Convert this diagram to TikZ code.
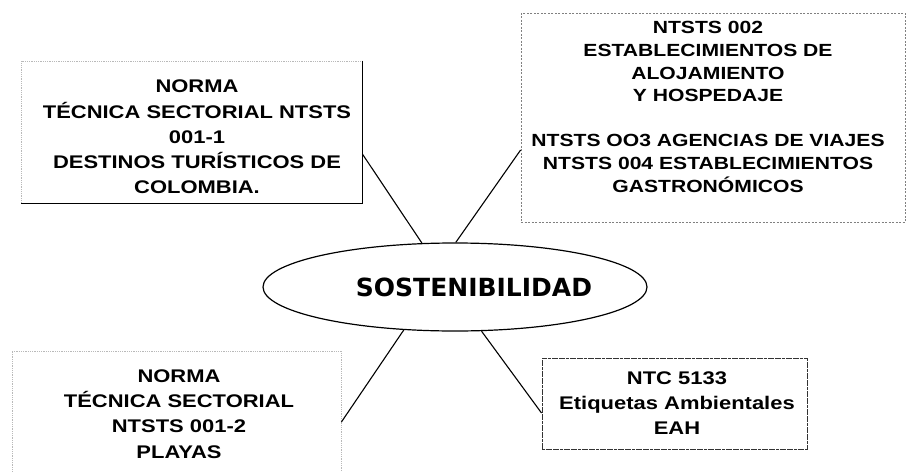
\documentclass[tikz,border=0pt]{standalone}
\usepackage{fontspec}
\setmainfont{Liberation Sans}[FakeStretch=1.2]
\newfontfamily\ovalfont{DejaVu Sans}
\usetikzlibrary{shapes.geometric}

\begin{document}
\begin{tikzpicture}[x=1pt,y=-1pt,
  caja/.style={draw=gray!55, densely dotted, line width=0.8pt, inner sep=0pt},
  texto/.style={align=center, font=\bfseries\fontsize{18.3}{25.3}\selectfont},
  linea/.style={draw, line width=1.1pt}]
\useasboundingbox (0,0) rectangle (907,471);

\node[draw, ellipse, line width=1.2pt, minimum width=384, minimum height=88, inner sep=0pt] (sost) at (455,287) {};
\node[font=\ovalfont\bfseries\fontsize{25}{30}\selectfont] (sosttxt) at (474,287) {SOSTENIBILIDAD};

\node[caja, minimum width=341, minimum height=142] (norma1) at (191.5,132) {};
\node[caja, draw=gray, dash pattern=on 2pt off 1.5pt, minimum width=384, minimum height=209] (ntsts) at (713,117.5) {};
\node[caja, minimum width=329, minimum height=124] (norma2) at (176.5,413) {};
\node[caja, draw=black!80, solid, dash pattern=on 3pt off 0.6pt, line width=1pt,
  minimum width=265, minimum height=91] (ntc) at (674.5,403.5) {};
\draw[line width=1pt] (norma1.north east) -- (norma1.south east) -- (norma1.south west);

\node[texto] (norma1txt) at (197,137) {NORMA\\TÉCNICA SECTORIAL NTSTS\\001-1\\DESTINOS TURÍSTICOS DE\\COLOMBIA.};
\node[texto, font=\bfseries\fontsize{17.6}{22.6}\selectfont] (ntststxt) at (708,107)
  {NTSTS 002\\ESTABLECIMIENTOS DE\\ALOJAMIENTO\\Y HOSPEDAJE\\[22.6pt]NTSTS OO3 AGENCIAS DE VIAJES\\NTSTS 004 ESTABLECIMIENTOS\\GASTRONÓMICOS};
\node[texto] (norma2txt) at (179,414) {NORMA\\TÉCNICA SECTORIAL\\NTSTS 001-2\\PLAYAS};
\node[texto] (ntctxt) at (677,403) {NTC 5133\\Etiquetas Ambientales\\EAH};

\path[linea] ([yshift=-22]norma1.east) -- (sost.127);
\path[linea] ([yshift=-32.5]ntsts.west) -- (sost.89);
\path[linea] ([yshift=-9]norma2.east) -- (sost.220);
\path[linea] ([yshift=-9.5]ntc.west) -- (sost.301);
\end{tikzpicture}
\end{document}
